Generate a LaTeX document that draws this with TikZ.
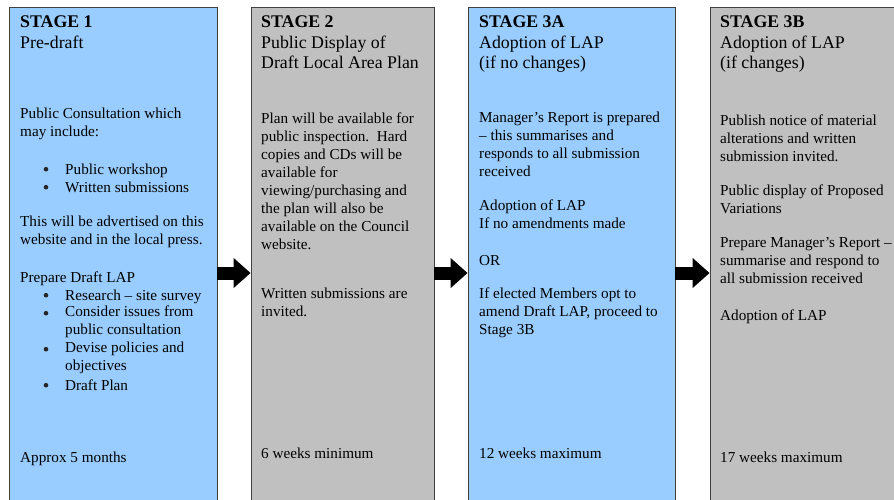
\documentclass[tikz,border=0pt]{standalone}
\usepackage{fontspec}
\setmainfont{Liberation Serif}
\usetikzlibrary{positioning,arrows.meta}
\definecolor{stageblue}{HTML}{99CCFF}
\definecolor{stagegray}{HTML}{C0C0C0}
\tikzset{
  stagebox/.style={draw=black!75,line width=.8pt,minimum height=532pt,inner sep=0pt},
  head/.style={anchor=north west,yshift=14.35pt,inner sep=0pt,align=left,
    font=\fontsize{17.8}{20.5}\selectfont,execute at begin node=\strut},
  body/.style={anchor=north west,yshift=12.6pt,inner sep=0pt,align=left,
    font=\fontsize{15.2}{18}\selectfont,execute at begin node=\strut},
  dot/.style={circle,fill=black!85,inner sep=0pt,minimum size=4.6pt},
  stagearrow/.style={line width=13pt,-{Triangle[length=17pt,width=29pt]}}
}
\begin{document}
\begin{tikzpicture}[x=1pt,y=-1pt]
\useasboundingbox (0,0) rectangle (894,499);
% the four stages
\node[stagebox,fill=stageblue,minimum width=208pt] (s1) at (113,273) {};
\node[stagebox,fill=stagegray,minimum width=183pt] (s2) at (342.5,273) {};
\node[stagebox,fill=stageblue,minimum width=207pt] (s3) at (571.5,273) {};
\node[stagebox,fill=stagegray,minimum width=290pt] (s4) at (855,273) {};
\draw[stagearrow] (s1) -- (s2);
\draw[stagearrow] (s2) -- (s3);
\draw[stagearrow] (s3) -- (s4);
% stage 1
\node[head] (h1) at (20,30) {\textbf{STAGE 1}\\Pre-draft};
\node[body] (p1a) at (20,120) {Public Consultation which\\may include:};
\foreach \y/\t [count=\i] in {174/Public workshop,192/Written submissions}{
  \node[dot] (da\i) at (46,\y-4.8) {};
  \node[body] (ia\i) at (65,\y) {\t};
}
\node[body] (p1b) at (20,228) {This will be advertised on this\\website and in the local press.};
\node[body] (p1c) at (20,282) {Prepare Draft LAP};
\foreach \y/\t [count=\i] in {300/{Research – site survey},318/{Consider issues from\\public consultation},
  354/{Devise policies and\\objectives},390/{Draft Plan}}{
  \node[dot] (db\i) at (46,\y-4.8) {};
  \node[body] (ib\i) at (65,\y) {\t};
}
\node[body] (p1d) at (20,462) {Approx 5 months};
% stage 2
\node[head] (h2) at (261,30) {\textbf{STAGE 2}\\Public Display of\\Draft Local Area Plan};
\node[body] (p2a) at (261,125) {Plan will be available for\\public inspection.\ \ Hard\\copies and CDs will be\\available for\\viewing/purchasing and\\the plan will also be\\available on the Council\\website.};
\node[body] (p2b) at (261,300) {Written submissions are\\invited.};
\node[body] (p2c) at (261,458) {6 weeks minimum};
% stage 3a
\node[head] (h3) at (479,30) {\textbf{STAGE 3A}\\Adoption of LAP\\(if no changes)};
\node[body] (p3a) at (479,124) {Manager’s Report is prepared\\– this summarises and\\responds to all submission\\received};
\node[body] (p3b) at (479,212) {Adoption of LAP\\If no amendments made};
\node[body] (p3c) at (479,265) {OR};
\node[body] (p3d) at (479,300) {If elected Members opt to\\amend Draft LAP, proceed to\\Stage 3B};
\node[body] (p3e) at (479,458) {12 weeks maximum};
% stage 3b
\node[head] (h4) at (720,30) {\textbf{STAGE 3B}\\Adoption of LAP\\(if changes)};
\node[body] (p4a) at (720,127) {Publish notice of material\\alterations and written\\submission invited.};
\node[body] (p4b) at (720,197) {Public display of Proposed\\Variations};
\node[body] (p4c) at (720,250) {Prepare Manager’s Report –\\summarise and respond to\\all submission received};
\node[body] (p4d) at (720,320) {Adoption of LAP};
\node[body] (p4e) at (720,462) {17 weeks maximum};
\end{tikzpicture}
\end{document}
